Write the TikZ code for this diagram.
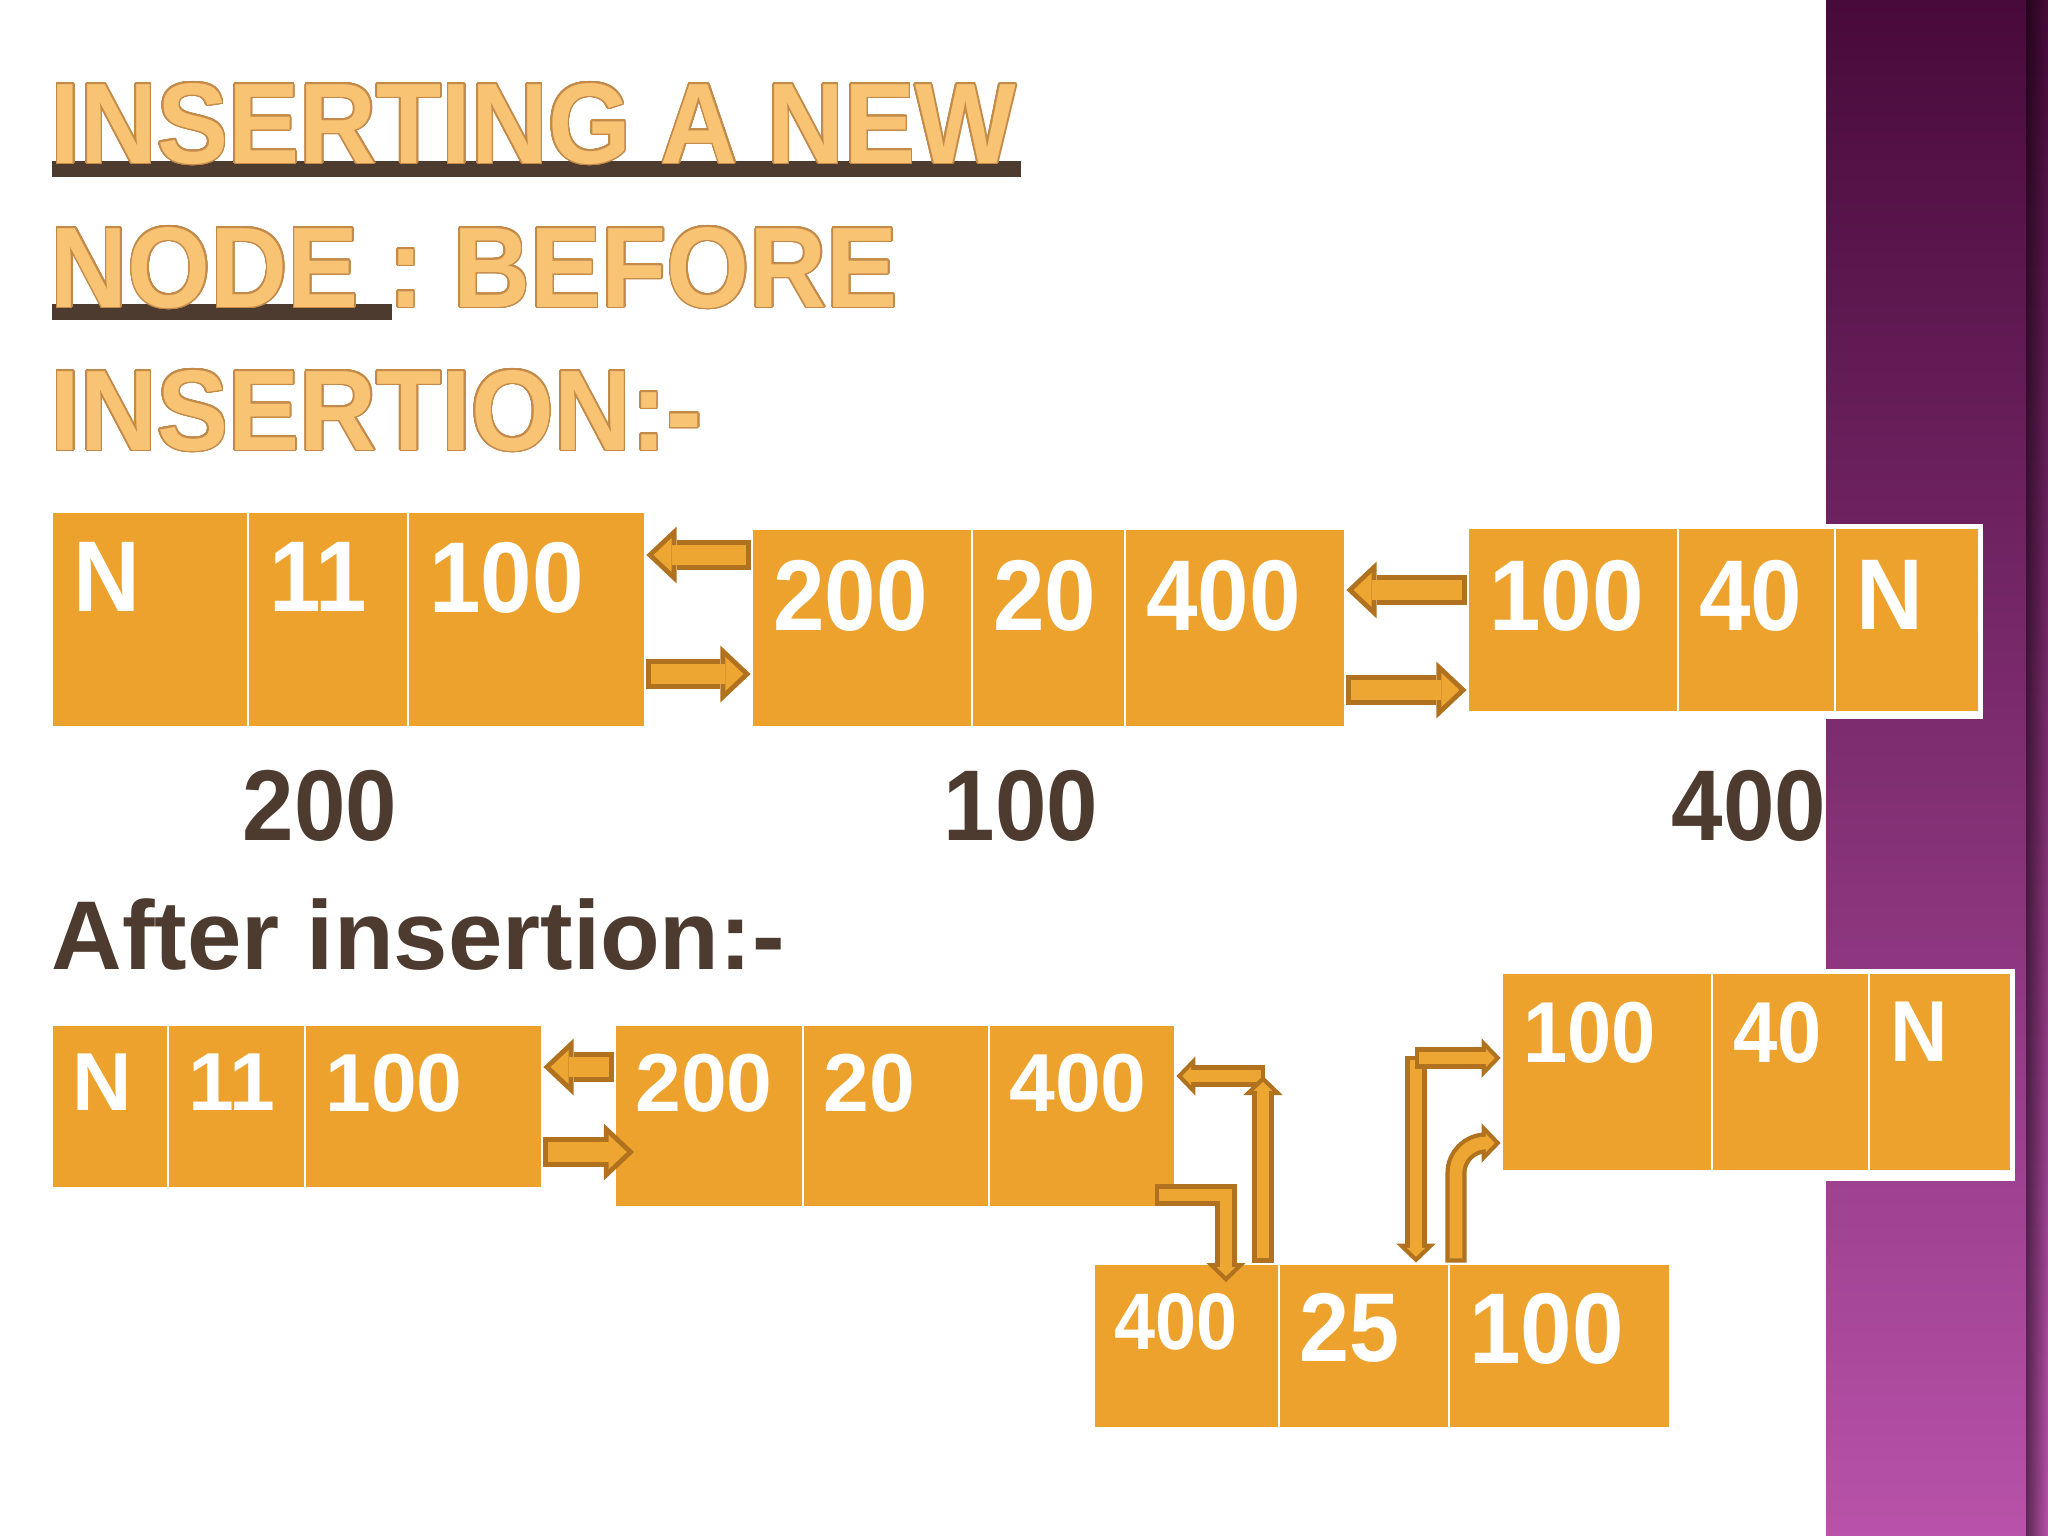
\documentclass[tikz,border=0pt]{standalone}
\usepackage{fontspec}
\setmainfont{Liberation Sans}
\newfontfamily\cellfont{Liberation Sans}[FakeStretch=0.92]
\newfontfamily\headfont{Liberation Sans}[FakeStretch=0.93]
\usepackage[copies]{contour}
\contourlength{0.45pt}
\contournumber{24}
\usetikzlibrary{fit,arrows.meta,fadings}

\definecolor{cellorange}{RGB}{236,162,45}
\definecolor{linkfill}{RGB}{238,166,50}
\definecolor{linkedge}{RGB}{176,114,30}
\definecolor{labelbrown}{RGB}{78,59,48}
\definecolor{headfill}{RGB}{248,196,116}
\definecolor{headedge}{RGB}{196,138,74}
\definecolor{bandtop}{RGB}{72,10,58}
\definecolor{bandmid}{RGB}{140,52,126}
\definecolor{bandbot}{RGB}{184,82,170}

\tikzset{
	cell/.style={fill=cellorange, draw=white, line width=0.8pt, inner sep=0pt},
	celltext/.style={anchor=north west, inner sep=0pt, text=white, font=\cellfont\bfseries\fontsize{#1}{#1}\selectfont},
	aftertext/.style={anchor=north west, inner sep=0pt, text=white, font=\bfseries\fontsize{#1}{#1}\selectfont},
	addr/.style={inner sep=0pt, text=labelbrown, font=\cellfont\bfseries\fontsize{28.6}{30}\selectfont},
	headline/.style={anchor=base west, inner sep=0pt, text=headfill, font=\headfont\bfseries\fontsize{32.6}{34}\selectfont},
	biglink/.style={draw=linkfill, line width=5.6pt, shorten <=1.4pt, shorten >=2.04pt,
		-{Triangle[length=5.16pt, width=9.72pt, line width=0pt]},
		preaction={draw=linkedge, line width=8.4pt, shorten <=0pt, shorten >=0pt,
			-{Triangle[length=8.6pt, width=16.2pt, line width=0pt]}}},
	smalllink/.style={draw=linkfill, line width=3.6pt, shorten <=1.2pt, shorten >=1.67pt,
		-{Triangle[length=2.53pt, width=5.25pt, line width=0pt]},
		preaction={draw=linkedge, line width=6pt, shorten <=0pt, shorten >=0pt,
			-{Triangle[length=5.4pt, width=11.2pt, line width=0pt]}}}
}

\begin{document}
\begin{tikzpicture}[x=0.01cm, y=-0.01cm]

	\fill[white] (0,0) rectangle (2048,1536);
	\useasboundingbox (0,0) rectangle (2048,1536);

	% side band
	\shade[top color=bandtop, middle color=bandmid, bottom color=bandbot] (1826,0) rectangle (2048,1536);
	\fill[black, opacity=0.5, path fading=east] (2026,0) rectangle (2048,1536);

	% heading
	\fill[labelbrown] (52,161) rectangle (1021,177);
	\fill[labelbrown] (52,304) rectangle (392,320);
	\node[headline] (h1) at (50,163) {\contour{headedge}{INSERTING A NEW}};
	\node[headline] (h2) at (50,307) {\contour{headedge}{NODE : BEFORE}};
	\node[headline] (h3) at (50,450) {\contour{headedge}{INSERTION:-}};

	% before insertion
	\fill[white] (1464,524) rectangle (1983,719);
	\foreach \nm/\xa/\xb/\txt in {b1a/52/248/N, b1b/248/408/11, b1c/408/645/100}
	{
		\node[cell, fit={(\xa,512) (\xb,727)}] (\nm) {};
		\node[celltext=28.6] (t\nm) at ([shift={(22,31)}]\nm.north west) {\txt};
	};
	\foreach \nm/\xa/\xb/\txt in {b2a/752/972/200, b2b/972/1125/20, b2c/1125/1345/400}
	{
		\node[cell, fit={(\xa,529) (\xb,727)}] (\nm) {};
		\node[celltext=28.6] (t\nm) at ([shift={(22,32)}]\nm.north west) {\txt};
	};
	\foreach \nm/\xa/\xb/\txt in {b3a/1468/1678/100, b3b/1678/1835/40, b3c/1835/1979/N}
	{
		\node[cell, fit={(\xa,528) (\xb,712)}] (\nm) {};
		\node[celltext=28.6] (t\nm) at ([shift={(22,33)}]\nm.north west) {\txt};
	};

	\coordinate (r1) at (0,555);
	\coordinate (r2) at (0,674);
	\coordinate (r3) at (0,590);
	\coordinate (r4) at (0,690);
	\draw[biglink] (b2a.west |- r1) -- (b1c.east |- r1);
	\draw[biglink] (b1c.east |- r2) -- (b2a.west |- r2);
	\draw[biglink] (b3a.west |- r3) -- (b2c.east |- r3);
	\draw[biglink] (b2c.east |- r4) -- (b3a.west |- r4);

	\node[addr] (l200) at (320,806) {200};
	\node[addr] (l100) at (1021,806) {100};
	\node[addr] (l400) at (1749,806) {400};

	% after insertion
	\node[anchor=base west, inner sep=0pt, text=labelbrown, font=\bfseries\fontsize{27.8}{30}\selectfont] (after) at (51,969) {After insertion:-};

	\fill[white] (1498,969) rectangle (2015,1181);
	\foreach \nm/\xa/\xb/\txt in {a1a/52/168/N, a1b/168/305/11, a1c/305/542/100}
	{
		\node[cell, fit={(\xa,1025) (\xb,1188)}] (\nm) {};
		\node[aftertext=23.4] (t\nm) at ([shift={(21,30)}]\nm.north west) {\txt};
	};
	\foreach \nm/\xa/\xb/\txt in {a2a/615/803/200, a2b/803/989/20, a2c/989/1175/400}
	{
		\node[cell, fit={(\xa,1025) (\xb,1207)}] (\nm) {};
		\node[aftertext=23.4] (t\nm) at ([shift={(21,30)}]\nm.north west) {\txt};
	};
	\foreach \nm/\xa/\xb/\txt in {a3a/1502/1712/100, a3b/1712/1869/40, a3c/1869/2011/N}
	{
		\node[cell, fit={(\xa,973) (\xb,1171)}] (\nm) {};
		\node[celltext=24.6] (t\nm) at ([shift={(22,30)}]\nm.north west) {\txt};
	};
	\foreach \nm/\xa/\xb/\txt/\sz in {a4a/1094/1279/400/22.8, a4b/1279/1449/25/27.8, a4c/1449/1670/100/28.6}
	{
		\node[cell, fit={(\xa,1264) (\xb,1428)}] (\nm) {};
		\node[celltext=\sz] (t\nm) at ([shift={(21,30)}]\nm.north west) {\txt};
	};

	\coordinate (s1) at (0,1067);
	\coordinate (s2) at (634,1152);
	\draw[biglink] (a2a.west |- s1) -- (a1c.east |- s1);
	\draw[biglink] (a1c.east |- s2) -- (s2);

	\coordinate (p1) at (1265,1076);
	\coordinate (p2) at (1263,1076);
	\coordinate (p3) at (1155,1195);
	\coordinate (p4) at (1226,1195);
	\coordinate (p5) at (1226,1282);
	\coordinate (p6) at (1416,1056);
	\coordinate (p7) at (1415,1058);
	\coordinate (p8) at (1456,1143);
	\draw[smalllink] (p1) -- (a2c.east |- p1);
	\draw[smalllink] (a4a.north -| p2) -- (p2);
	\draw[smalllink] (p3) -- (p4) -- (p5);
	\draw[smalllink] (p6) -- (a4b.north -| p6);
	\draw[smalllink] (p7) -- (a3a.west |- p7);
	\draw[smalllink, rounded corners=8.5pt] (a4c.north -| p8) -- (p8) -- (a3a.west |- p8);

\end{tikzpicture}
\end{document}
